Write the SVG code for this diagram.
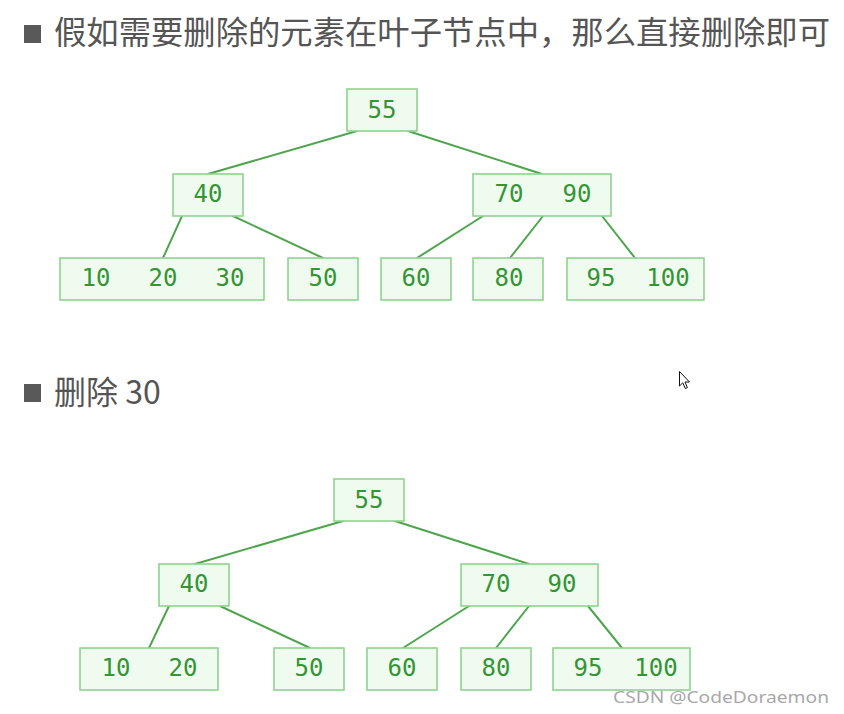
<svg xmlns="http://www.w3.org/2000/svg" width="844" height="714" viewBox="0 0 844 714">
<style>
.box{fill:#effbef;stroke:#8fd48f;stroke-width:1.6}
.k{font-family:"DejaVu Sans Mono","Liberation Mono",monospace;font-size:24px;fill:#359435;text-anchor:middle}
.e{stroke:#4ea54e;stroke-width:2;fill:none;stroke-linecap:round}
.h{font-family:"Noto Sans CJK SC","Noto Sans",sans-serif;font-size:32px;fill:#555555}
.sq{fill:#595959}
</style>
<rect width="844" height="714" fill="#ffffff"/>
<g id="heading1">
<rect class="sq" x="24" y="25" width="17" height="18"/>
<text class="h" x="54" y="44" textLength="776" lengthAdjust="spacingAndGlyphs">假如需要删除的元素在叶子节点中，那么直接删除即可</text>
</g>
<g id="heading2">
<rect class="sq" x="24" y="384" width="17" height="18"/>
<text class="h" x="54" y="404">删除 30</text>
</g>
<g id="connectors">
<line class="e" x1="357" y1="131" x2="208" y2="174"/>
<line class="e" x1="408" y1="131" x2="542" y2="174"/>
<line class="e" x1="182" y1="216" x2="163" y2="258"/>
<line class="e" x1="233" y1="216" x2="323" y2="258"/>
<line class="e" x1="483" y1="216" x2="417" y2="258"/>
<line class="e" x1="543" y1="216" x2="510" y2="258"/>
<line class="e" x1="602" y1="216" x2="635" y2="258"/>
<line class="e" x1="343" y1="521" x2="195" y2="564"/>
<line class="e" x1="395" y1="521" x2="529" y2="564"/>
<line class="e" x1="169" y1="606" x2="149" y2="648"/>
<line class="e" x1="220" y1="606" x2="310" y2="648"/>
<line class="e" x1="469" y1="606" x2="403" y2="648"/>
<line class="e" x1="529" y1="606" x2="496" y2="648"/>
<line class="e" x1="588" y1="606" x2="622" y2="648"/>
</g>
<g id="t1-55"><rect class="box" x="347" y="89" width="70" height="42"/><text class="k" x="382" y="118">55</text></g>
<g id="t1-40"><rect class="box" x="173" y="174" width="70" height="42"/><text class="k" x="208" y="202">40</text></g>
<g id="t1-7090"><rect class="box" x="473" y="174" width="138" height="42"/><text class="k" x="509" y="202">70</text><text class="k" x="577" y="202">90</text></g>
<g id="t1-102030"><rect class="box" x="60" y="258" width="204" height="42"/><text class="k" x="96" y="286">10</text><text class="k" x="163" y="286">20</text><text class="k" x="230" y="286">30</text></g>
<g id="t1-50"><rect class="box" x="288" y="258" width="70" height="42"/><text class="k" x="323" y="286">50</text></g>
<g id="t1-60"><rect class="box" x="381" y="258" width="70" height="42"/><text class="k" x="416" y="286">60</text></g>
<g id="t1-80"><rect class="box" x="473" y="258" width="70" height="42"/><text class="k" x="509" y="286">80</text></g>
<g id="t1-95100"><rect class="box" x="567" y="258" width="137" height="42"/><text class="k" x="601" y="286">95</text><text class="k" x="668" y="286">100</text></g>
<g id="t2-55"><rect class="box" x="334" y="479" width="70" height="42"/><text class="k" x="369" y="508">55</text></g>
<g id="t2-40"><rect class="box" x="159" y="564" width="70" height="42"/><text class="k" x="194" y="592">40</text></g>
<g id="t2-7090"><rect class="box" x="461" y="564" width="137" height="42"/><text class="k" x="496" y="592">70</text><text class="k" x="562" y="592">90</text></g>
<g id="t2-1020"><rect class="box" x="80" y="648" width="138" height="42"/><text class="k" x="116" y="676">10</text><text class="k" x="183" y="676">20</text></g>
<g id="t2-50"><rect class="box" x="274" y="648" width="70" height="42"/><text class="k" x="309" y="676">50</text></g>
<g id="t2-60"><rect class="box" x="367" y="648" width="70" height="42"/><text class="k" x="402" y="676">60</text></g>
<g id="t2-80"><rect class="box" x="461" y="648" width="70" height="42"/><text class="k" x="496" y="676">80</text></g>
<g id="t2-95100"><rect class="box" x="553" y="648" width="137" height="42"/><text class="k" x="588" y="676">95</text><text class="k" x="656" y="676">100</text></g>
<g id="cursor">
<path d="M679.5,371.5 L679.5,386 L682.8,382.8 L685.3,388.5 L687.4,387.6 L685,382 L689.5,382 Z" fill="#ffffff" stroke="#111111" stroke-width="1" stroke-linejoin="round"/>
</g>
<g id="watermark">
<text x="613" y="703" font-family="Noto Sans,Open Sans,sans-serif" font-size="17" fill="#a8a8a8" textLength="216" lengthAdjust="spacingAndGlyphs">CSDN @CodeDoraemon</text>
</g>
</svg>
